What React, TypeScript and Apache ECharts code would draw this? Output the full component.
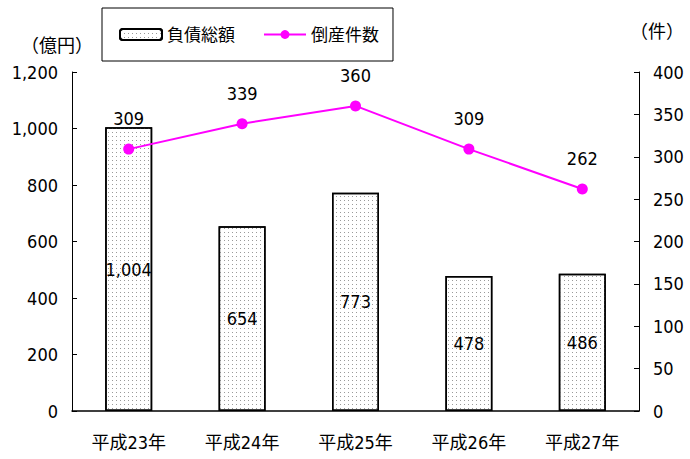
import React, { useEffect, useRef } from "react";
import * as echarts from "echarts";

const categories = ["平成23年", "平成24年", "平成25年", "平成26年", "平成27年"];
const debtTotals = [1004, 654, 773, 478, 486];
const bankruptcyCounts = [309, 339, 360, 309, 262];
const leftTicks = [0, 200, 400, 600, 800, 1000, 1200];
const rightTicks = [0, 50, 100, 150, 200, 250, 300, 350, 400];

const FONT = "'DejaVu Sans Condensed', 'Noto Sans CJK JP', sans-serif";

export default function App() {
  const ref = useRef<HTMLDivElement>(null);
  useEffect(() => {
    if (!ref.current) return;
    const chart = echarts.init(ref.current, undefined, { renderer: "svg" });
    const fmt = (v: number) => v.toLocaleString("en-US");
    chart.setOption({
      animation: false,
      backgroundColor: "#fff",
      textStyle: { fontFamily: FONT, color: "#000" },
      legend: {
        left: 102,
        top: 8,
        width: 286,
        height: 57,
        padding: [18, 14, 18, 17],
        itemGap: 28,
        itemWidth: 42,
        itemHeight: 11,
        borderColor: "#000",
        borderWidth: 1,
        textStyle: { fontFamily: FONT, fontSize: 17, color: "#000" },
        data: [{ name: "負債総額" }, { name: "倒産件数" }],
      },
      grid: { left: 72, right: 51, top: 72, bottom: 48 },
      xAxis: {
        type: "category",
        data: categories,
        axisLine: { lineStyle: { color: "#000", width: 1.5 } },
        axisTick: { inside: true, length: 5, lineStyle: { color: "#000" } },
        axisLabel: { fontFamily: FONT, fontSize: 18, color: "#000", margin: 22 },
      },
      yAxis: [
        {
          type: "value",
          min: leftTicks[0],
          max: leftTicks[leftTicks.length - 1],
          interval: 200,
          name: "（億円）",
          nameLocation: "end",
          nameGap: 18,
          nameTextStyle: { fontFamily: FONT, fontSize: 18, color: "#000", align: "center", padding: [0, 0, 0, -30] },
          axisLine: { show: true, lineStyle: { color: "#000", width: 1 } },
          axisTick: { show: true, inside: true, length: 5, lineStyle: { color: "#000" } },
          axisLabel: { fontFamily: FONT, fontSize: 18, color: "#000", margin: 14, formatter: fmt },
          splitLine: { show: false },
        },
        {
          type: "value",
          min: rightTicks[0],
          max: rightTicks[rightTicks.length - 1],
          interval: 50,
          name: "（件）",
          nameLocation: "end",
          nameGap: 32,
          nameTextStyle: { fontFamily: FONT, fontSize: 18, color: "#000", align: "center", padding: [0, 0, 0, 36] },
          axisLine: { show: true, lineStyle: { color: "#000", width: 1 } },
          axisTick: { show: true, inside: true, length: 5, lineStyle: { color: "#000" } },
          axisLabel: { fontFamily: FONT, fontSize: 18, color: "#000", margin: 14 },
          splitLine: { show: false },
        },
      ],
      series: [
        {
          name: "負債総額",
          type: "bar",
          yAxisIndex: 0,
          data: debtTotals,
          barWidth: 47,
          itemStyle: {
            color: "#fff",
            borderColor: "#000",
            borderWidth: 1.5,
            decal: {
              symbol: "rect",
              symbolSize: 1,
              dashArrayX: [1, 3],
              dashArrayY: [1, 3],
              color: "#9a9a9a",
              rotation: 0,
            },
          },
          label: {
            show: true,
            position: "inside",
            fontFamily: FONT,
            fontSize: 18,
            color: "#000",
            formatter: (p: any) => fmt(p.value),
          },
        },
        {
          name: "倒産件数",
          type: "line",
          yAxisIndex: 1,
          data: bankruptcyCounts,
          symbol: "circle",
          symbolSize: 11,
          lineStyle: { color: "#ff00ff", width: 2 },
          itemStyle: { color: "#ff00ff" },
          label: {
            show: true,
            position: "top",
            distance: 16,
            fontFamily: FONT,
            fontSize: 18,
            color: "#000",
          },
        },
      ],
    });
    return () => chart.dispose();
  }, []);
  return <div ref={ref} style={{ width: 690, height: 459, position: "absolute", left: 0, top: 0 }} />;
}
